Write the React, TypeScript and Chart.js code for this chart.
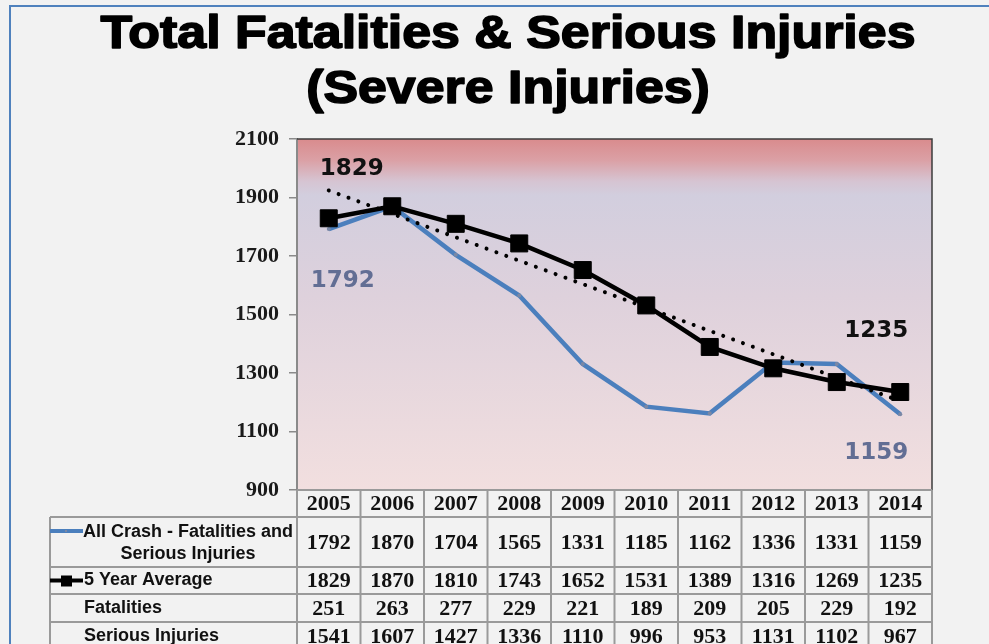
import React, { useEffect, useRef } from 'react';
import { Chart, registerables } from 'chart.js';

Chart.register(...registerables);

const titleLines = ['Total Fatalities & Serious Injuries', '(Severe Injuries)'];
const years = ['2005', '2006', '2007', '2008', '2009', '2010', '2011', '2012', '2013', '2014'];
const allCrash = [1792, 1870, 1704, 1565, 1331, 1185, 1162, 1336, 1331, 1159];
const fiveYearAvg = [1829, 1870, 1810, 1743, 1652, 1531, 1389, 1316, 1269, 1235];
const fatalities = [251, 263, 277, 229, 221, 189, 209, 205, 229, 192];
const seriousInjuries = [1541, 1607, 1427, 1336, 1110, 996, 953, 1131, 1102, 967];
// dotted trend line: values read at its two ends (2005 and 2014)
const trendStart = 1924;
const trendEnd = 1204;
const trendValues = years.map((_, i) => (i === 0 ? trendStart : i === years.length - 1 ? trendEnd : null));
const yTicks = [900, 1100, 1300, 1500, 1700, 1900, 2100];
const rowLabels = ['All Crash - Fatalities and', 'Serious Injuries', '5 Year Average', 'Fatalities', 'Serious Injuries'];

const BLUE = '#4b7fbd';
const LABEL_BLUE = 'rgb(98,110,148)';
const GRID = '#9a9a9a';
const NUM_FONT = 'bold 22px "Liberation Serif", "Times New Roman", serif';
const ROW_FONT = 'bold 18px "Liberation Sans", Arial, sans-serif';
const DL_FONT = 'bold 23px "DejaVu Sans", Verdana, sans-serif';

function drawTitleLine(ctx: CanvasRenderingContext2D, text: string, cx: number, baseline: number, targetW: number) {
  ctx.save();
  const w = ctx.measureText(text).width;
  const sx = targetW / w;
  ctx.translate(cx, baseline);
  ctx.scale(sx, 1);
  ctx.fillText(text, 0, 0);
  ctx.strokeText(text, 0, 0);
  ctx.restore();
}

const decorPlugin = {
  id: 'decor',
  beforeDraw(chart: any) {
    const { ctx, chartArea: a } = chart;
    ctx.save();
    ctx.fillStyle = '#f2f2f2';
    ctx.fillRect(0, 0, chart.width, chart.height);
    ctx.strokeStyle = '#4f81bd';
    ctx.lineWidth = 2;
    ctx.beginPath();
    ctx.moveTo(10, chart.height);
    ctx.lineTo(10, 6);
    ctx.lineTo(chart.width, 6);
    ctx.stroke();
    const g = ctx.createLinearGradient(0, a.top, 0, a.bottom);
    g.addColorStop(0, 'rgb(217,139,141)');
    g.addColorStop(0.06, 'rgb(219,160,165)');
    g.addColorStop(0.12, 'rgb(214,196,210)');
    g.addColorStop(0.16, 'rgb(210,206,222)');
    g.addColorStop(0.45, 'rgb(222,209,220)');
    g.addColorStop(1, 'rgb(242,223,223)');
    ctx.fillStyle = g;
    ctx.fillRect(a.left, a.top, a.right - a.left, a.bottom - a.top);
    ctx.fillStyle = '#000';
    ctx.strokeStyle = '#000';
    ctx.lineWidth = 1.6;
    ctx.lineJoin = 'round';
    ctx.font = 'bold 46px "Liberation Sans", Arial, sans-serif';
    ctx.textAlign = 'center';
    ctx.textBaseline = 'alphabetic';
    const w1 = ctx.measureText(titleLines[0]).width;
    const sx = 815 / w1;
    drawTitleLine(ctx, titleLines[0], 508, 48, 815);
    drawTitleLine(ctx, titleLines[1], 508, 103, ctx.measureText(titleLines[1]).width * sx);
    ctx.restore();
  },
  afterDraw(chart: any) {
    const { ctx, chartArea: a } = chart;
    const xs = chart.scales.x;
    const ys = chart.scales.y;
    const n = years.length;
    const colW = (a.right - a.left) / n;
    ctx.save();
    // plot frame top/right
    ctx.strokeStyle = '#3c3c3c';
    ctx.lineWidth = 1.5;
    ctx.beginPath();
    ctx.moveTo(a.left, a.top);
    ctx.lineTo(a.right, a.top);
    ctx.lineTo(a.right, a.bottom);
    ctx.stroke();

    // data labels
    ctx.font = DL_FONT;
    ctx.textAlign = 'center';
    ctx.textBaseline = 'middle';
    const last = n - 1;
    ctx.fillStyle = '#111';
    ctx.fillText(String(fiveYearAvg[0]), xs.getPixelForValue(0) + 23, ys.getPixelForValue(fiveYearAvg[0]) - 49);
    ctx.fillText(String(fiveYearAvg[last]), xs.getPixelForValue(last) - 24, ys.getPixelForValue(fiveYearAvg[last]) - 61);
    ctx.fillStyle = LABEL_BLUE;
    ctx.fillText(String(allCrash[0]), xs.getPixelForValue(0) + 14, ys.getPixelForValue(allCrash[0]) + 52);
    ctx.fillText(String(allCrash[last]), xs.getPixelForValue(last) - 24, ys.getPixelForValue(allCrash[last]) + 39);

    // table
    const tableLeft = 50;
    const rowB = [a.bottom, a.bottom + 27, a.bottom + 77, a.bottom + 104, a.bottom + 132, a.bottom + 160];
    ctx.strokeStyle = GRID;
    ctx.lineWidth = 2;
    ctx.beginPath();
    ctx.moveTo(a.left, rowB[0]);
    ctx.lineTo(a.right, rowB[0]);
    for (let r = 1; r < rowB.length; r++) {
      ctx.moveTo(tableLeft, rowB[r]);
      ctx.lineTo(a.right, rowB[r]);
    }
    for (let k = 0; k <= n; k++) {
      const x = a.left + k * colW;
      ctx.moveTo(x, rowB[0]);
      ctx.lineTo(x, chart.height);
    }
    ctx.moveTo(tableLeft, rowB[1]);
    ctx.lineTo(tableLeft, chart.height);
    ctx.stroke();

    ctx.fillStyle = '#111';
    ctx.font = NUM_FONT;
    ctx.textAlign = 'center';
    ctx.textBaseline = 'middle';
    const rowsData = [years, allCrash, fiveYearAvg, fatalities, seriousInjuries];
    rowsData.forEach((row, r) => {
      const cy = (rowB[r] + rowB[r + 1]) / 2 + 1;
      row.forEach((v, i) => {
        ctx.fillText(String(v), xs.getPixelForValue(i), cy);
      });
    });

    // row labels
    ctx.font = ROW_FONT;
    ctx.fillStyle = '#111';
    ctx.textAlign = 'center';
    const labelL = 84;
    const labelR = a.left - 5;
    const cx = (labelL + labelR) / 2;
    ctx.fillText(rowLabels[0], cx, rowB[1] + 15);
    ctx.fillText(rowLabels[1], cx, rowB[1] + 37);
    ctx.textAlign = 'left';
    ctx.fillText(rowLabels[2], labelL, (rowB[2] + rowB[3]) / 2);
    ctx.fillText(rowLabels[3], labelL, (rowB[3] + rowB[4]) / 2);
    ctx.fillText(rowLabels[4], labelL, (rowB[4] + rowB[5]) / 2);

    // legend keys
    const k1 = rowB[1] + 14;
    ctx.strokeStyle = BLUE;
    ctx.lineWidth = 4;
    ctx.beginPath();
    ctx.moveTo(tableLeft, k1);
    ctx.lineTo(labelL - 1, k1);
    ctx.stroke();
    ctx.fillStyle = '#7a88a6';
    ctx.fillRect(65, k1 - 1, 2, 2);
    const k2 = (rowB[2] + rowB[3]) / 2;
    ctx.strokeStyle = '#000';
    ctx.beginPath();
    ctx.moveTo(tableLeft, k2);
    ctx.lineTo(labelL - 1, k2);
    ctx.stroke();
    ctx.fillStyle = '#000';
    ctx.fillRect(61, k2 - 5, 11, 11);
    ctx.restore();
  },
};

export default function App() {
  const ref = useRef<HTMLCanvasElement | null>(null);
  useEffect(() => {
    if (!ref.current) return;
    const chart = new Chart(ref.current, {
      type: 'line',
      data: {
        labels: years,
        datasets: [
          {
            label: 'All Crash - Fatalities and Serious Injuries',
            data: allCrash,
            borderColor: BLUE,
            borderWidth: 4.5,
            pointRadius: 2,
            pointBackgroundColor: '#7a88a6',
            pointBorderWidth: 0,
            tension: 0,
            order: 3,
          },
          {
            label: '5 Year Average',
            data: fiveYearAvg,
            borderColor: '#000',
            borderWidth: 4.5,
            pointStyle: 'rect',
            pointRadius: 12,
            pointBackgroundColor: '#000',
            pointBorderColor: '#000',
            pointBorderWidth: 1,
            tension: 0,
            order: 2,
          },
          {
            label: 'Trend',
            data: trendValues,
            borderColor: '#000',
            borderWidth: 4,
            borderDash: [0.01, 10.5],
            borderCapStyle: 'round',
            pointRadius: 0,
            spanGaps: true,
            order: 1,
          },
        ],
      },
      options: {
        animation: false,
        responsive: false,
        devicePixelRatio: 1,
        layout: { padding: { top: 139, right: 57, bottom: 154, left: 0 } },
        plugins: { legend: { display: false }, tooltip: { enabled: false }, title: { display: false } },
        scales: {
          x: { display: false, offset: true },
          y: {
            min: 900,
            max: 2100,
            afterBuildTicks: (s: any) => {
              s.ticks = yTicks.map((v) => ({ value: v }));
            },
            afterFit: (s: any) => {
              s.width = 297;
            },
            ticks: {
              padding: 10,
              color: '#1a1a1a',
              callback: (v: any) => String(v),
              font: { family: '"Liberation Serif", "Times New Roman", serif', weight: 'bold', size: 22 },
            },
            grid: { drawOnChartArea: false, drawTicks: true, tickLength: 8, color: '#8a8a8a', lineWidth: 1.5 },
            border: { display: true, color: '#8a8a8a', width: 2 },
          },
        },
      },
      plugins: [decorPlugin],
    } as any);
    return () => chart.destroy();
  }, []);
  return (
    <div style={{ position: 'fixed', left: 0, top: 0, width: 989, height: 644, background: '#f2f2f2' }}>
      <canvas ref={ref} width={989} height={644} style={{ display: 'block', width: 989, height: 644 }} />
    </div>
  );
}
